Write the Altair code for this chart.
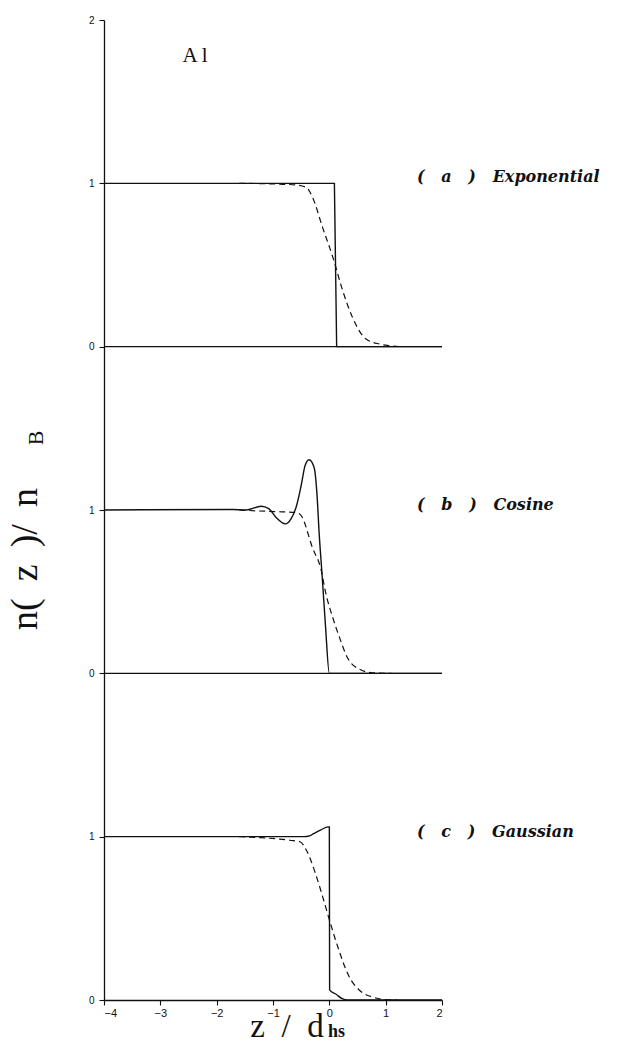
import altair as alt
import pandas as pd

# ---------------- data ----------------
# panel (a) Exponential
a_solid_x = [-4.0, 0.09, 0.13, 2.0]
a_solid_y = [1.0, 1.0, 0.0, 0.0]
a_dash_x = [-1.6, -0.89, -0.6, -0.41, -0.30, -0.12, 0.06, 0.24, 0.41, 0.65, 0.89, 1.07, 1.3]
a_dash_y = [1.0, 0.995, 0.99, 0.975, 0.916, 0.73, 0.55, 0.34, 0.18, 0.047, 0.016, 0.006, 0.0]

# panel (b) Cosine
b_solid_x = [-4.0, -1.72, -1.48, -1.21, -1.07, -0.95, -0.78, -0.68, -0.59, -0.50, -0.43,
             -0.36, -0.27, -0.22, -0.18, -0.13, -0.07, 0.0, 2.0]
b_solid_y = [1.0, 1.003, 1.0, 1.023, 1.007, 0.956, 0.915, 0.946, 1.017, 1.15, 1.273,
             1.308, 1.26, 1.10, 0.854, 0.609, 0.30, 0.0, 0.0]
b_dash_x = [-1.6, -1.31, -0.95, -0.59, -0.50, -0.30, -0.15, -0.06, 0.06, 0.18, 0.32, 0.53, 0.77, 1.1]
b_dash_y = [1.0, 0.995, 0.99, 0.985, 0.966, 0.77, 0.639, 0.486, 0.342, 0.22, 0.097, 0.026, 0.003, 0.0]

# panel (c) Gaussian
c_solid_x = [-4.0, -0.45, -0.35, -0.28, -0.16, -0.02, 0.0, 0.005, 0.12, 0.22, 0.32, 2.0]
c_solid_y = [1.0, 1.0, 1.005, 1.018, 1.04, 1.06, 1.06, 0.062, 0.035, 0.01, 0.0, 0.0]
c_dash_x = [-1.6, -1.22, -0.70, -0.52, -0.40, -0.25, -0.11, 0.01, 0.16, 0.34, 0.54, 0.78, 0.99, 1.2]
c_dash_y = [1.0, 0.994, 0.978, 0.969, 0.912, 0.778, 0.623, 0.48, 0.315, 0.151, 0.058, 0.017, 0.002, 0.0]

NB = "\u00a0"
TH = "\u2009"
panel_labels = [
    "(" + NB * 3 + "a" + NB * 3 + ")" + NB * 3 + "Exponential",
    "(" + NB * 3 + "b" + NB * 3 + ")" + NB * 3 + "Cosine",
    "(" + NB * 3 + "c" + NB * 3 + ")" + NB * 3 + "Gaussian",
]
x_ticks = [-4, -3, -2, -1, 0, 1, 2]
y_ticks = [0, 1, 2, 3, 4, 5, 6]

# ---------------- build table ----------------
offsets = {"a": 4, "b": 2, "c": 0}
series = [
    ("a", "solid", a_solid_x, a_solid_y),
    ("a", "dash", a_dash_x, a_dash_y),
    ("b", "solid", b_solid_x, b_solid_y),
    ("b", "dash", b_dash_x, b_dash_y),
    ("c", "solid", c_solid_x, c_solid_y),
    ("c", "dash", c_dash_x, c_dash_y),
]
rows = []
for panel, kind, xs, ys in series:
    for i, (xv, yv) in enumerate(zip(xs, ys)):
        rows.append({"x": xv, "y": yv + offsets[panel], "panel": panel,
                     "kind": kind, "series": panel + kind, "order": i})
df = pd.DataFrame(rows)

base_df = pd.DataFrame({"x": [-4, -4], "x2": [2, 2], "y": [2, 4]})

xscale = alt.Scale(domain=[-4, 2], nice=False, zero=False)
yscale = alt.Scale(domain=[0, 6], nice=False, zero=False)

xaxis = alt.Axis(values=x_ticks, format="d", title=None, grid=False, tickSize=5, labelPadding=2,
                 labelFontSize=11, labelFont="Liberation Sans", labelColor="#111",
                 domainColor="#111", tickColor="#111", domainWidth=1.3, tickWidth=1.1)
yaxis = alt.Axis(values=y_ticks, title=None, grid=False, tickSize=5, labelPadding=5,
                 labelFontSize=10, labelFont="Liberation Sans", labelColor="#111",
                 domainColor="#111", tickColor="#111", domainWidth=1.3, tickWidth=1.1,
                 labelExpr="datum.value == 6 ? '2' : (datum.value % 2 == 0 ? '0' : '1')")

solid_a = alt.Chart(df[(df.kind == "solid") & (df.panel == "a")]).mark_line(
    color="#111", strokeWidth=1.4, interpolate="linear").encode(
    x=alt.X("x:Q", scale=xscale, axis=xaxis),
    y=alt.Y("y:Q", scale=yscale, axis=yaxis),
    detail="series:N", order="order:Q")

solid_bc = alt.Chart(df[(df.kind == "solid") & (df.panel != "a")]).mark_line(
    color="#111", strokeWidth=1.4, interpolate="monotone").encode(
    x=alt.X("x:Q", scale=xscale), y=alt.Y("y:Q", scale=yscale),
    detail="series:N", order="order:Q")

dashed = alt.Chart(df[df.kind == "dash"]).mark_line(
    color="#111", strokeWidth=1.2, strokeDash=[6, 4], interpolate="monotone").encode(
    x=alt.X("x:Q", scale=xscale), y=alt.Y("y:Q", scale=yscale),
    detail="series:N", order="order:Q")

baselines = alt.Chart(base_df).mark_rule(color="#111", strokeWidth=1.3).encode(
    x=alt.X("x:Q", scale=xscale), x2="x2:Q", y=alt.Y("y:Q", scale=yscale))


def txt(s, px, py, **kw):
    return alt.Chart(pd.DataFrame({"t": [s]})).mark_text(**kw).encode(
        x=alt.value(px), y=alt.value(py), text="t:N")


lab_kw = dict(font="DejaVu Serif", fontStyle="italic", fontWeight="bold", fontSize=16,
              align="left", baseline="middle", color="#111")
labels = [
    txt(panel_labels[0], 313, 157, **lab_kw),
    txt(panel_labels[1], 313, 485, **lab_kw),
    txt(panel_labels[2], 313, 812, **lab_kw),
    txt("A l", 91, 36, font="Liberation Serif", fontSize=21, align="center",
        baseline="middle", color="#111"),
    txt("n(" + NB + TH + "z" + NB + TH + ")/" + NB + TH + "n", -67, 539,
        font="Liberation Serif", fontSize=38, angle=270, align="center",
        baseline="alphabetic", color="#111"),
    txt("B", -61, 418, font="Liberation Serif", fontSize=22, angle=270,
        align="center", baseline="alphabetic", color="#111"),
    txt("z" + NB * 2 + "/" + NB * 2 + "d", 183, 1017, font="Liberation Serif", fontSize=33,
        align="center", baseline="alphabetic", color="#111"),
    txt("hs", 224, 1017, font="Liberation Serif", fontWeight="bold", fontSize=18,
        align="left", baseline="alphabetic", color="#111"),
]

chart = alt.layer(baselines, solid_a, solid_bc, dashed, *labels).properties(
    width=338, height=980,
    autosize=alt.AutoSizeParams(type="none"),
    padding={"left": 96, "top": 12, "right": 184, "bottom": 38},
    background="white",
).configure_view(stroke=None)

chart.save("out.html", embed_options={"renderer": "svg", "actions": False})
